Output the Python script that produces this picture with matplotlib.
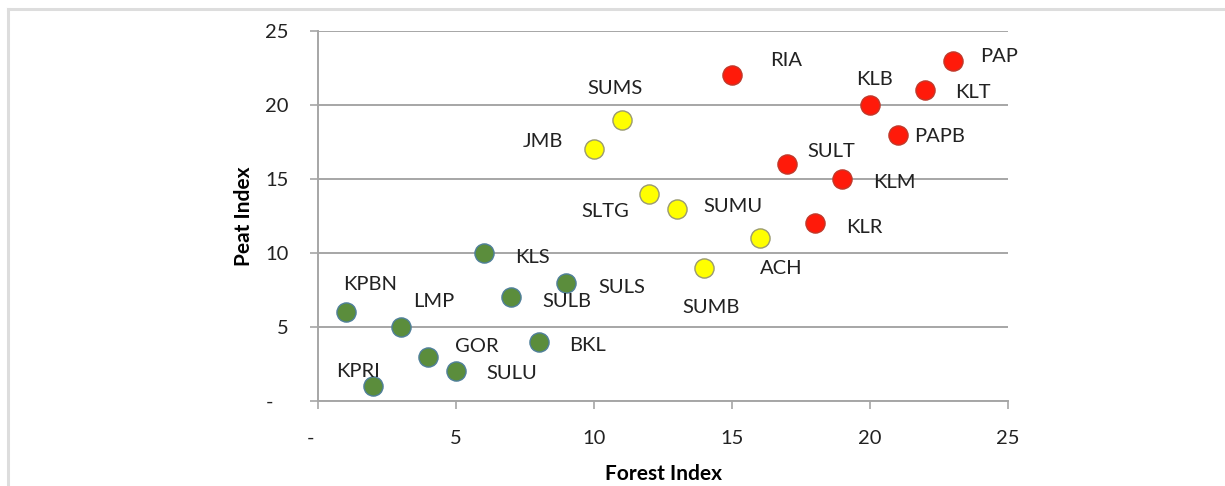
import numpy as np
import matplotlib
matplotlib.use("Agg")
import matplotlib.pyplot as plt
from matplotlib.lines import Line2D

plt.rcParams['font.family'] = ['Lato', 'DejaVu Sans']

# data: forest index, peat index per site
green_names = ["KPBN", "KPRI", "LMP", "GOR", "SULU", "KLS", "SULB", "BKL", "SULS"]
green_forest = [1, 2, 3, 4, 5, 6, 7, 8, 9]
green_peat = [6, 1, 5, 3, 2, 10, 7, 4, 8]

yellow_names = ["JMB", "SUMS", "SLTG", "SUMU", "SUMB", "ACH"]
yellow_forest = [10, 11, 12, 13, 14, 16]
yellow_peat = [17, 19, 14, 13, 9, 11]

red_names = ["RIA", "SULT", "KLR", "KLM", "KLB", "PAPB", "KLT", "PAP"]
red_forest = [15, 17, 18, 19, 20, 21, 22, 23]
red_peat = [22, 16, 12, 15, 20, 18, 21, 23]

ticks = [0, 5, 10, 15, 20, 25]

# label offsets in pixels (centre of text relative to the point)
label_offsets = {
    "KPBN": (25, 28), "KPRI": (-15, 15), "LMP": (33, 26), "GOR": (48, 10),
    "SULU": (56, -2), "KLS": (49, -4), "SULB": (56, -4), "BKL": (49, -4),
    "SULS": (55, -5), "JMB": (-51, 8), "SUMS": (-7, 31), "SLTG": (-44, -18),
    "SUMU": (56, 2), "SUMB": (7, -40), "ACH": (22, -30), "RIA": (54, 15),
    "SULT": (44, 13), "KLR": (49, -4), "KLM": (52, -3), "KLB": (4, 26),
    "PAPB": (42, -2), "KLT": (48, -2), "PAP": (46, 4),
}

fs = 14.5

fig = plt.figure(figsize=(12.25, 4.86), dpi=100)
ax = fig.add_axes([0.2596, 0.1749, 0.5633, 0.7613])

grid_col = "#a6a6a6"
ax.set_xlim(0, 25)
ax.set_ylim(0, 25)
ax.set_xticks(ticks)
ax.set_yticks(ticks)
ax.set_xticklabels(["-   "] + [str(t) for t in ticks[1:]])
ax.set_yticklabels(["-   "] + [str(t) for t in ticks[1:]])
ax.tick_params(axis="both", direction="out", length=6, width=1.2, color=grid_col,
               labelsize=fs, labelcolor="#222222", pad=15)
ax.yaxis.grid(True, color=grid_col, linewidth=1.4)
ax.set_axisbelow(True)
for side in ["top", "right"]:
    ax.spines[side].set_visible(False)
for side in ["left", "bottom"]:
    ax.spines[side].set_color(grid_col)
    ax.spines[side].set_linewidth(1.4)

groups = [
    (green_names, green_forest, green_peat, "#5b8d3c", "#4f7f9a"),
    (yellow_names, yellow_forest, yellow_peat, "#ffff00", "#9a9a70"),
    (red_names, red_forest, red_peat, "#ff1a0a", "#c0392b"),
]
for names, xs, ys, fc, ec in groups:
    ax.scatter(xs, ys, s=190, c=fc, edgecolors=ec, linewidths=1.0, zorder=3,
               clip_on=False)
    for n, x, y in zip(names, xs, ys):
        dx, dy = label_offsets[n]
        ax.annotate(n, (x, y), xytext=(dx, dy), textcoords="offset pixels",
                    ha="center", va="center", fontsize=fs, color="#222222")

ax.set_xlabel("Forest Index", fontsize=15, fontweight="bold", labelpad=12)
ax.set_ylabel("Peat Index", fontsize=15, fontweight="bold", labelpad=8)

# light gray frame around the picture
frame_col = "#dddddd"
fig.add_artist(Line2D([8 / 1225, 1], [1 - 9 / 486, 1 - 9 / 486], color=frame_col,
                      linewidth=2.2, transform=fig.transFigure))
fig.add_artist(Line2D([8 / 1225, 8 / 1225], [0, 1 - 9 / 486], color=frame_col,
                      linewidth=2.2, transform=fig.transFigure))

fig.savefig("out.png", dpi=100)
